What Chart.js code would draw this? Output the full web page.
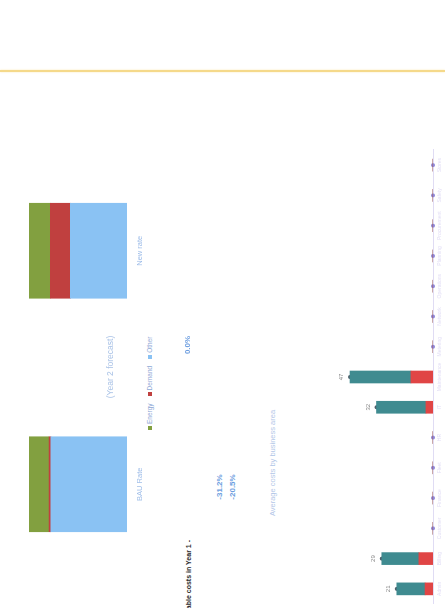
<!DOCTYPE html>
<html>
<head>
<meta charset="utf-8">
<script src="https://cdn.jsdelivr.net/npm/chart.js@4.4.1/dist/chart.umd.min.js"></script>
<style>
  html, body { margin: 0; padding: 0; background: #fff; width: 445px; height: 608px; overflow: hidden; }
  /* the scanned page lies on its side: build it landscape, then turn it */
  #page { position: absolute; left: 0; top: 0; width: 608px; height: 445px;
          transform-origin: 0 0; transform: translate(0, 608px) rotate(-90deg);
          font-family: "Liberation Sans", Arial, sans-serif; background: #fff; }
  .txt { position: absolute; white-space: nowrap; transform: translate(-50%, -50%); }
  #rule { position: absolute; left: 536px; top: 0; width: 2px; height: 445px; background: #f5d98a; box-shadow: 0 0 2px #fbe8b0; }
  #rateBox { position: absolute; left: 0; top: 0; }
  #areaBox { position: absolute; left: 0; top: 300px; }
  #legend { position: absolute; left: 178px; top: 146px; display: flex; gap: 7px; font-size: 6.5px; color: #8fa9d6; }
  #legend span.sw { display: inline-block; width: 4px; height: 4px; margin-right: 2px; vertical-align: middle; }
</style>
</head>
<body>
<div id="page">
  <div id="rule"></div>
  <canvas id="rateBox" width="474" height="145"></canvas>
  <div id="legend"></div>
  <div class="txt" style="left:241px;top:110px;font-size:8.5px;color:#a9c2e6;">(Year 2 forecast)</div>
  <div class="txt" style="left:263px;top:187px;font-size:8px;font-weight:bold;color:#6d9ee0;">0.0%</div>
  <div class="txt" style="left:121px;top:219px;font-size:8px;font-weight:bold;color:#6d9ee0;">-31.2%</div>
  <div class="txt" style="left:121px;top:232px;font-size:8px;font-weight:bold;color:#6d9ee0;">-20.5%</div>
  <div class="txt" style="left:145px;top:272px;font-size:7.5px;color:#b3c7e8;">Average costs by business area</div>
  <div class="txt" style="left:68px;top:188px;transform:translate(-100%,-50%);font-size:7px;font-weight:bold;color:#2a2a2a;">Variable costs in Year 1 -</div>
  <canvas id="areaBox" width="462" height="145"></canvas>
</div>

<script>
// left chart: cost split per tariff (share of total, %)
const rateCats = ['BAU Rate', 'New rate'];
const energyShare = [20.4, 21.7];
const demandShare = [2.0, 20.6];
const otherShare = [77.6, 57.7];

// right chart: average costs by business area
const areaCats = ['Admin', 'Billing', 'Customer', 'Finance', 'Fleet', 'HR', 'IT', 'Maintenance',
  'Metering', 'Network', 'Operations', 'Planning', 'Procurement', 'Safety', 'Stores'];
const areaFixed = [4.5, 8, 0, 0, 0, 0, 4, 12.5, 0, 0, 0, 0, 0, 0, 0];
const areaVariable = [16, 21, 0, 0, 0, 0, 28, 34.5, 0, 0, 0, 0, 0, 0, 0];

const GREEN = '#82a040', RED = '#c0403f', BLUE = '#8ac2f3';
const TEAL = '#3f8b90', RED2 = '#e04545', DOT = '#8f86d8';

// legend for the left chart, kept as html text
const legendItems = [['Energy', GREEN], ['Demand', RED], ['Other', BLUE]];
document.getElementById('legend').innerHTML = legendItems
  .map(([name, col]) => `<div><span class="sw" style="background:${col}"></span>${name}</div>`).join('');

new Chart(document.getElementById('rateBox'), {
  type: 'bar',
  data: {
    labels: rateCats,
    datasets: [
      { label: 'Other', data: otherShare, backgroundColor: BLUE },
      { label: 'Demand', data: demandShare, backgroundColor: RED },
      { label: 'Energy', data: energyShare, backgroundColor: GREEN }
    ]
  },
  options: {
    responsive: false,
    animation: false,
    barThickness: 95,
    layout: { padding: { top: 29, left: 7, right: 0, bottom: 0 } },
    scales: {
      x: {
        stacked: true,
        grid: { display: false, drawTicks: false },
        border: { display: false },
        ticks: { padding: 8, color: '#9dbce8', font: { size: 7.5 }, minRotation: 0, maxRotation: 0 },
        afterFit: (axis) => { axis.height = 18; }
      },
      y: { stacked: true, min: 0, max: 100, display: false }
    },
    plugins: { legend: { display: false }, tooltip: { enabled: false } }
  }
});

const areaTotal = areaFixed.map((v, i) => v + areaVariable[i]);

// small value labels on top of each column
const totalLabels = {
  id: 'totalLabels',
  afterDatasetsDraw(chart) {
    const ctx = chart.ctx;
    ctx.save();
    ctx.font = '6px "Liberation Sans"';
    ctx.fillStyle = '#8c8c8c';
    ctx.textAlign = 'center';
    areaTotal.forEach((v, i) => {
      if (!v) return;
      const x = chart.scales.x.getPixelForValue(i);
      const y = chart.scales.y.getPixelForValue(v);
      ctx.fillText(Math.round(v), x, y - 7);
    });
    ctx.restore();
  }
};

new Chart(document.getElementById('areaBox'), {
  type: 'bar',
  data: {
    labels: areaCats,
    datasets: [
      { label: 'Fixed', data: areaFixed, backgroundColor: RED2, stack: 'cost' },
      { label: 'Variable', data: areaVariable, backgroundColor: TEAL, stack: 'cost' },
      {
        type: 'line', label: 'Total', data: areaTotal, stack: 'total', showLine: false, clip: false,
        pointRadius: 2, pointBorderWidth: 0,
        pointBackgroundColor: areaTotal.map(v => v ? '#4f5f6a' : DOT)
      }
    ]
  },
  options: {
    responsive: false,
    animation: false,
    barThickness: 12,
    layout: { padding: { top: 20, left: 1, right: 0, bottom: 0 } },
    scales: {
      x: {
        stacked: true,
        grid: { display: false, drawTicks: false },
        border: { display: true, color: '#e0dcf4', dash: [1, 2] },
        ticks: { padding: 4, color: '#e2def5', font: { size: 5 }, minRotation: 0, maxRotation: 0, autoSkip: false },
        afterFit: (axis) => { axis.height = 12; }
      },
      y: { stacked: true, min: 0, max: 64, display: false }
    },
    plugins: { legend: { display: false }, tooltip: { enabled: false } }
  },
  plugins: [totalLabels]
});
</script>
</body>
</html>
